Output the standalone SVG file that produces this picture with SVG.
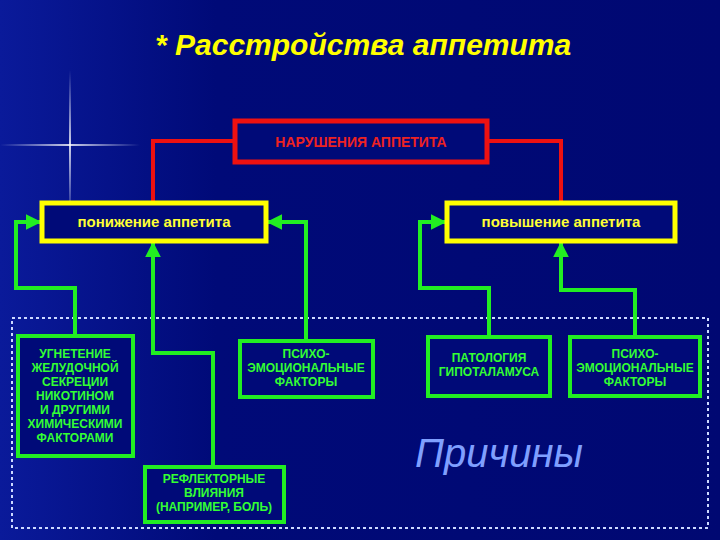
<svg xmlns="http://www.w3.org/2000/svg" width="720" height="540" viewBox="0 0 720 540">
<defs>
<linearGradient id="bg" x1="0" y1="0" x2="1" y2="0">
<stop offset="0" stop-color="#0a1a9a"/><stop offset="0.3" stop-color="#000a78"/><stop offset="1" stop-color="#000872"/>
</linearGradient>
<linearGradient id="sh" x1="0" y1="0" x2="1" y2="0">
<stop offset="0" stop-color="#fff" stop-opacity="0"/><stop offset="0.5" stop-color="#fff"/><stop offset="1" stop-color="#fff" stop-opacity="0"/>
</linearGradient>
<linearGradient id="sv" x1="0" y1="0" x2="0" y2="1">
<stop offset="0" stop-color="#fff" stop-opacity="0"/><stop offset="0.5" stop-color="#fff"/><stop offset="1" stop-color="#fff" stop-opacity="0"/>
</linearGradient>
<marker id="ar" viewBox="0 0 10 10" refX="9" refY="5" markerWidth="4" markerHeight="4" orient="auto" markerUnits="strokeWidth">
<path d="M0,0L10,5L0,10z" fill="#22ee22"/>
</marker>
<style>
.g{fill:#000a78;stroke:#22ee22;stroke-width:4}
.y{fill:#000a78;stroke:#ffff00;stroke-width:5}
.c{fill:none;stroke:#22ee22;stroke-width:4}
.r{fill:none;stroke:#ee1111;stroke-width:4}
.t{font-family:"Liberation Sans",Arial,sans-serif;font-weight:bold;fill:#33ff33;font-size:12px;text-anchor:middle}
.ty{font-family:"Liberation Sans",Arial,sans-serif;font-weight:bold;fill:#ffff33;font-size:15px;text-anchor:middle}
</style>
</defs>
<rect width="720" height="540" fill="url(#bg)"/>
<rect x="0" y="144" width="140" height="2" fill="url(#sh)" opacity="0.8"/>
<rect x="69" y="70" width="2" height="150" fill="url(#sv)" opacity="0.8"/>
<text x="155" y="55" font-family="Liberation Sans,Arial,sans-serif" font-size="30" font-style="italic" font-weight="bold" fill="#ffff00">*  Расстройства аппетита</text>
<rect x="12" y="318" width="696" height="210" fill="none" stroke="#ccd8ff" stroke-width="2" stroke-dasharray="3,3"/>
<g id="connectors">
<path class="r" d="M234,141H153V203"/>
<path class="r" d="M487,141H561V203"/>
<path class="c" d="M75,336V288H16V222H40" marker-end="url(#ar)"/>
<path class="c" d="M213,467V353H153V243" marker-end="url(#ar)"/>
<path class="c" d="M306,341V222H268" marker-end="url(#ar)"/>
<path class="c" d="M489,337V288H420V222H445" marker-end="url(#ar)"/>
<path class="c" d="M635,337V290H561V243" marker-end="url(#ar)"/>
</g>
<g id="root"><rect x="235" y="121" width="252" height="41" fill="#000a78" stroke="#ee1111" stroke-width="5"/>
<text x="361" y="147" font-family="Liberation Sans,Arial,sans-serif" font-weight="bold" font-size="14" fill="#ee2222" text-anchor="middle">НАРУШЕНИЯ АППЕТИТА</text></g>
<g id="low"><rect class="y" x="42" y="203" width="224" height="38"/><text class="ty" x="154" y="227">понижение аппетита</text></g>
<g id="high"><rect class="y" x="447" y="203" width="228" height="38"/><text class="ty" x="561" y="227">повышение аппетита</text></g>
<g id="n1"><rect class="g" x="18" y="336" width="115" height="120"/>
<text class="t" x="75" y="358">УГНЕТЕНИЕ<tspan x="75" dy="14">ЖЕЛУДОЧНОЙ</tspan><tspan x="75" dy="14">СЕКРЕЦИИ</tspan><tspan x="75" dy="14">НИКОТИНОМ</tspan><tspan x="75" dy="14">И ДРУГИМИ</tspan><tspan x="75" dy="14">ХИМИЧЕСКИМИ</tspan><tspan x="75" dy="14">ФАКТОРАМИ</tspan></text></g>
<g id="n2"><rect class="g" x="145" y="467" width="139" height="55"/>
<text class="t" x="214" y="483">РЕФЛЕКТОРНЫЕ<tspan x="214" dy="14">ВЛИЯНИЯ</tspan><tspan x="214" dy="14">(НАПРИМЕР, БОЛЬ)</tspan></text></g>
<g id="n3"><rect class="g" x="240" y="341" width="133" height="56"/>
<text class="t" x="306" y="358">ПСИХО-<tspan x="306" dy="14">ЭМОЦИОНАЛЬНЫЕ</tspan><tspan x="306" dy="14">ФАКТОРЫ</tspan></text></g>
<g id="n4"><rect class="g" x="428" y="337" width="122" height="59"/>
<text class="t" x="489" y="362">ПАТОЛОГИЯ<tspan x="489" dy="14">ГИПОТАЛАМУСА</tspan></text></g>
<g id="n5"><rect class="g" x="570" y="337" width="130" height="59"/>
<text class="t" x="635" y="358">ПСИХО-<tspan x="635" dy="14">ЭМОЦИОНАЛЬНЫЕ</tspan><tspan x="635" dy="14">ФАКТОРЫ</tspan></text></g>
<text x="415" y="467" font-family="Liberation Sans,Arial,sans-serif" font-size="40" font-style="italic" fill="#7f9fff">Причины</text>
</svg>
